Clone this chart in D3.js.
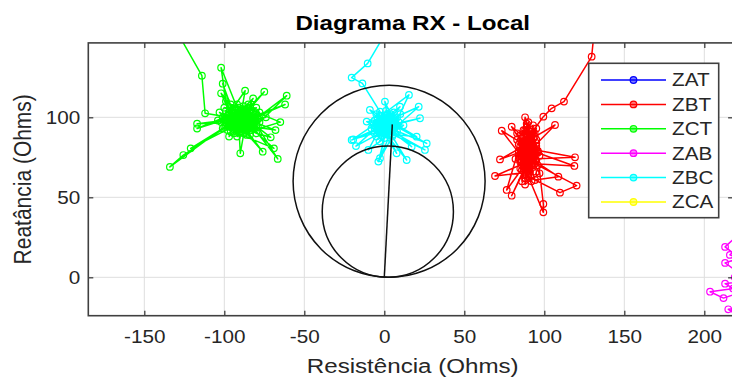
<!DOCTYPE html>
<html>
<head>
<meta charset="utf-8">
<script src="https://cdn.jsdelivr.net/npm/d3@7"></script>
<style>
  body { margin: 0; background: #fff; }
  svg { display: block; }
  text { font-family: "Liberation Sans", Arial, Helvetica, sans-serif; fill: #262626; }
</style>
</head>
<body>
<svg id="chart" width="732" height="381"></svg>
<script>
// Impedance trajectories (R, X) in ohms for each measured loop
const seriesNames = ["ZAT", "ZBT", "ZCT", "ZAB", "ZBC", "ZCA"];
const seriesColors = ["#0000ff", "#ff0000", "#00ff00", "#ff00ff", "#00ffff", "#ffff00"];

// ZAT and ZCA stay outside the displayed window
const zat = [];
const zca = [];

const zbt = [[131,152],[129.6,137.9],[112.3,109.8],[104.6,105.6],[99.4,100.4],[92,90],[88,85],[95,80],[86,75],[90,70],
  [73.4,91.6],[89,82],[93,73],[79.6,94.1],[87,88],[94,77],[88,100],[85,68],[91,84],[72.3,73.7],
  [87,79],[93,66],[69.2,63.3],[89,72],[86,87],[76.5,54.6],[92,76],[79.6,51],[88,69],[95,84],
  [99.4,45.8],[99.4,40.6],[90,63],[109.8,52.9],[120.2,57.3],[94,71],[118.8,69.6],[87,81],[119.2,75],[92,74],
  [108.8,62.9],[94.2,60.8],[89,77],[106.7,95.2],[91,86],[84,79],[96,70],[88,92],[93,81],[85,72],
  [90,88],[97,76],[86,84],[91,66],[94,90],[87,74],[92,79],[89,94],[83,86],[95,73],
  [90,80],[86,70],[93,87],[88,64],[91,91],[85,82],[96,79],[89,67],[92,85],[87,76],
  [89,78],[92,83],[87,71],[94,76],[90,86],[86,80],[93,69],[88,88],[91,74],[85,77],
  [95,82],[89,64],[92,79],[87,85],[90,72],[94,88],[86,67],[91,81],[88,75],[93,90],
  [84,83],[90,66],[96,78],[87,92],[92,70],[89,84],[85,74],[94,80],[88,62],[91,89],
  [86,78],[93,75],[90,82],[87,68],[95,86],[89,73],[92,91],[84,76],[91,70],[88,80],
  [90,97],[86,60],[93,95],[83,90],[97,65],[88,58],[95,93],[82,74],[92,60],[89,96]];

const zct = [[-131,156],[-114,126],[-112,102.5],[-97,100],[-88,96],[-102,131],[-99,110],[-92,94],[-84,101],[-95,105],
  [-87,116.6],[-90,99],[-80,95],[-98,92],[-75,116],[-86,103],[-93,97],[-101,121],[-94,102],[-83,92],
  [-61,113.5],[-79,100],[-91,106],[-96,95],[-62,108],[-85,98],[-100,99],[-88,90],[-65,97],[-82,104],
  [-97,88],[-92,101],[-68,92],[-89,95],[-103,103],[-80,90],[-71,87.5],[-86,99],[-94,91],[-69,80.6],
  [-84,94],[-99,97],[-90,104],[-66.6,74],[-81,97],[-117,96],[-93,99],[-87,93],[-76,78.5],[-95,100],
  [-117,93],[-85,106],[-90,77.5],[-91,96],[-121,80.6],[-88,101],[-125.6,76.4],[-134,69],[-100,94],[-82,111.8],
  [-89,98],[-102,115],[-92,92],[-78,103],[-96,108],[-86,95],[-98,101],[-83,99],[-93,104],[-87,91],
  [-104,98],[-80,106],[-90,93],[-85,102],[-95,97],[-74,100],[-101,93],[-88,107],[-92,88],[-79,94],
  [-97,103],[-84,89],[-90,100],
  [-95,101],[-86,97],[-99,104],[-83,95],[-92,108],[-88,92],[-97,96],[-80,102],[-94,90],[-87,105],
  [-101,100],[-84,97],[-90,91],[-96,106],[-82,100],[-93,95],[-89,103],[-98,98],[-85,93],[-91,102],
  [-78,97],[-95,93],[-87,99],[-100,106],[-83,103],[-92,97],[-86,89],[-97,102],[-81,93],[-94,99],
  [-88,104],[-99,95],[-84,101],[-90,96],[-96,91],[-85,108],[-93,101],[-79,99],[-89,94],[-102,97],
  [-86,102],[-91,99],[-95,95],[-82,96],[-88,98]];

const zab = [[225,30],[213,19],[222,12],[213,9],[220,4],[226,-2],[213,-4],[218,-7],[203.6,-9],[212,-13],
  [221,-10],[228,-18],[215,-20],[224,-26],[219,0],[230,8],[216,14],[225,22]];

const zbc = [[1,153],[-10.4,133.7],[-20.4,124.8],[-13.7,121.2],[-2.7,103.5],[2,97],[-4,92],[5,99],[0.4,109.8],[3,94],
  [-6,98],[15.4,114],[4,90],[-2,96],[21.5,106.6],[6,93],[-5,88],[9.8,106.6],[1,100],[-3,93],
  [22.3,99.4],[7,96],[-1,90],[20.2,87.9],[3,98],[-7,95],[25.4,79.6],[5,91],[-2,101],[17.1,81.6],
  [2,93],[-9,104.6],[4,97],[-19.4,86.2],[-3,91],[6,95],[-17.7,82],[0,98],[-10,79.6],[3,89],
  [-11,97.3],[8,100],[-2.7,74.4],[1,92],[7.7,77.5],[-4,96],[14,73.3],[5,88],[-3.7,72.3],[2,95],
  [-20.4,85.8],[-1,99],[26.5,83.7],[4,93],[-6,90],[10,102],[0,87],[-5,102],[8,91],[2,96],
  [12,95],[-3,85],[6,103],[-8,93],[3,91],[0,95],
  [1,97],[-3,94],[4,100],[0,91],[6,97],[-5,96],[2,102],[-2,89],[5,94],[-1,97],
  [8,95],[-4,99],[3,92],[-6,93],[1,104],[7,98],[-2,93],[4,96],[0,100],[-4,90],
  [6,91],[2,99],[-7,97],[3,95],[-1,92],[9,97],[-3,101],[5,89],[0,94],[2,92],
  [-5,94],[4,102],[1,95]];

const seriesData = [zat, zbt, zct, zab, zbc, zca];

// Mho characteristic circles: centre (R, X) and radius, in ohms
const zoneCircles = [
  { r: 3, x: 60, radius: 60 },
  { r: 2.2, x: 41, radius: 41 }
];
// Line-impedance segment from the origin
const lineSegment = [[0, 0], [5, 95.6]];

const xTicks = [-150, -100, -50, 0, 50, 100, 150, 200];
const yTicks = [0, 50, 100];

const titleText = "Diagrama RX - Local";
const xLabelText = "Resistência (Ohms)";
const yLabelText = "Reatância (Ohms)";

// ---- layout ----
const plot = { left: 88.3, top: 42.9, right: 733.1, bottom: 315.7 };
const stretch = 1.15;

const svg = d3.select("#chart");
const x = d3.scaleLinear().domain([-185, 218]).range([plot.left, plot.right]);
const y = d3.scaleLinear().domain([-24, 146.5]).range([plot.bottom, plot.top]);

svg.append("defs").append("clipPath").attr("id", "plotClip")
  .append("rect")
  .attr("x", plot.left).attr("y", plot.top)
  .attr("width", plot.right - plot.left).attr("height", plot.bottom - plot.top);

// grid
const grid = svg.append("g").attr("stroke", "#dedede").attr("stroke-width", 1);
grid.selectAll("line.gx").data(xTicks).join("line")
  .attr("x1", d => x(d)).attr("x2", d => x(d))
  .attr("y1", plot.top).attr("y2", plot.bottom);
grid.selectAll("line.gy").data(yTicks).join("line")
  .attr("x1", plot.left).attr("x2", plot.right)
  .attr("y1", d => y(d)).attr("y2", d => y(d));

// data trajectories
const content = svg.append("g").attr("clip-path", "url(#plotClip)");
const lineGen = d3.line().x(d => x(d[0])).y(d => y(d[1]));

seriesData.forEach((pts, i) => {
  const g = content.append("g");
  g.append("path").datum(pts)
    .attr("d", lineGen)
    .attr("fill", "none")
    .attr("stroke", seriesColors[i])
    .attr("stroke-width", 1.5)
    .attr("stroke-linejoin", "round");
  g.selectAll("circle").data(pts).join("circle")
    .attr("cx", d => x(d[0])).attr("cy", d => y(d[1]))
    .attr("r", 3.3)
    .attr("fill", "none")
    .attr("stroke", seriesColors[i])
    .attr("stroke-width", 1.2);
});

// zone circles and line segment
content.selectAll("circle.zone").data(zoneCircles).join("circle")
  .attr("class", "zone")
  .attr("cx", d => x(d.r)).attr("cy", d => y(d.x))
  .attr("r", d => x(d.r + d.radius) - x(d.r))
  .attr("fill", "none").attr("stroke", "#111").attr("stroke-width", 1.5);
content.append("path").datum(lineSegment)
  .attr("d", lineGen)
  .attr("fill", "none").attr("stroke", "#111").attr("stroke-width", 1.5);

// axes (ticks pointing inward on all four sides)
const tickLen = 5;
const fontTick = 18;
const fmt = d => String(d);
const axB = svg.append("g").attr("transform", `translate(0,${plot.bottom})`)
  .call(d3.axisBottom(x).tickValues(xTicks).tickSizeInner(-tickLen).tickSizeOuter(0).tickPadding(14.5).tickFormat(fmt));
const axT = svg.append("g").attr("transform", `translate(0,${plot.top})`)
  .call(d3.axisTop(x).tickValues(xTicks).tickSizeInner(-tickLen).tickSizeOuter(0).tickFormat(""));
const axL = svg.append("g").attr("transform", `translate(${plot.left},0)`)
  .call(d3.axisLeft(y).tickValues(yTicks).tickSizeInner(-tickLen).tickSizeOuter(0).tickPadding(7).tickFormat(fmt));
const axR = svg.append("g").attr("transform", `translate(${plot.right},0)`)
  .call(d3.axisRight(y).tickValues(yTicks).tickSizeInner(-tickLen).tickSizeOuter(0).tickFormat(""));

[axB, axT, axL, axR].forEach(a => {
  a.select(".domain").remove();
  a.selectAll(".tick line").attr("stroke", "#404040").attr("stroke-width", 1.3);
  a.selectAll("text").attr("font-size", fontTick).attr("fill", "#262626")
    .attr("font-family", null)
    .attr("transform", `scale(${stretch},1)`);
});

// axes box
svg.append("rect")
  .attr("x", plot.left).attr("y", plot.top)
  .attr("width", plot.right - plot.left).attr("height", plot.bottom - plot.top)
  .attr("fill", "none").attr("stroke", "#404040").attr("stroke-width", 1.6);

// title and axis labels
const midX = (plot.left + plot.right) / 2 + 2;
svg.append("text")
  .attr("transform", `translate(${midX},30) scale(${stretch},1)`)
  .attr("text-anchor", "middle").attr("font-size", 21).attr("font-weight", "bold")
  .style("fill", "#000")
  .text(titleText);
svg.append("text")
  .attr("transform", `translate(${midX},373) scale(${stretch},1)`)
  .attr("text-anchor", "middle").attr("font-size", 21)
  .text(xLabelText);
svg.append("text")
  .attr("transform", `translate(31,${(plot.top + plot.bottom) / 2}) rotate(-90) scale(1,${stretch})`)
  .attr("text-anchor", "middle").attr("font-size", 21)
  .text(yLabelText);

// legend
const leg = { x: 588.7, y: 63.3, w: 130, h: 154.4, row0: 80, step: 24.4 };
const legend = svg.append("g");
legend.append("rect")
  .attr("x", leg.x).attr("y", leg.y).attr("width", leg.w).attr("height", leg.h)
  .attr("fill", "#fff").attr("stroke", "#404040").attr("stroke-width", 1.6);
const rows = legend.selectAll("g.row").data(seriesNames).join("g")
  .attr("transform", (d, i) => `translate(0,${leg.row0 + i * leg.step})`);
rows.append("line")
  .attr("x1", 601).attr("x2", 666).attr("y1", 0).attr("y2", 0)
  .attr("stroke", (d, i) => seriesColors[i]).attr("stroke-width", 1.5);
rows.append("circle")
  .attr("cx", 633.5).attr("cy", 0).attr("r", 3.3)
  .attr("fill", (d, i) => seriesColors[i]).attr("fill-opacity", 0.5)
  .attr("stroke", (d, i) => seriesColors[i]).attr("stroke-width", 1.2);
rows.append("text")
  .attr("transform", `translate(672,0) scale(${stretch},1)`)
  .attr("dy", "0.36em").attr("font-size", 18)
  .text(d => d);
</script>
</body>
</html>
